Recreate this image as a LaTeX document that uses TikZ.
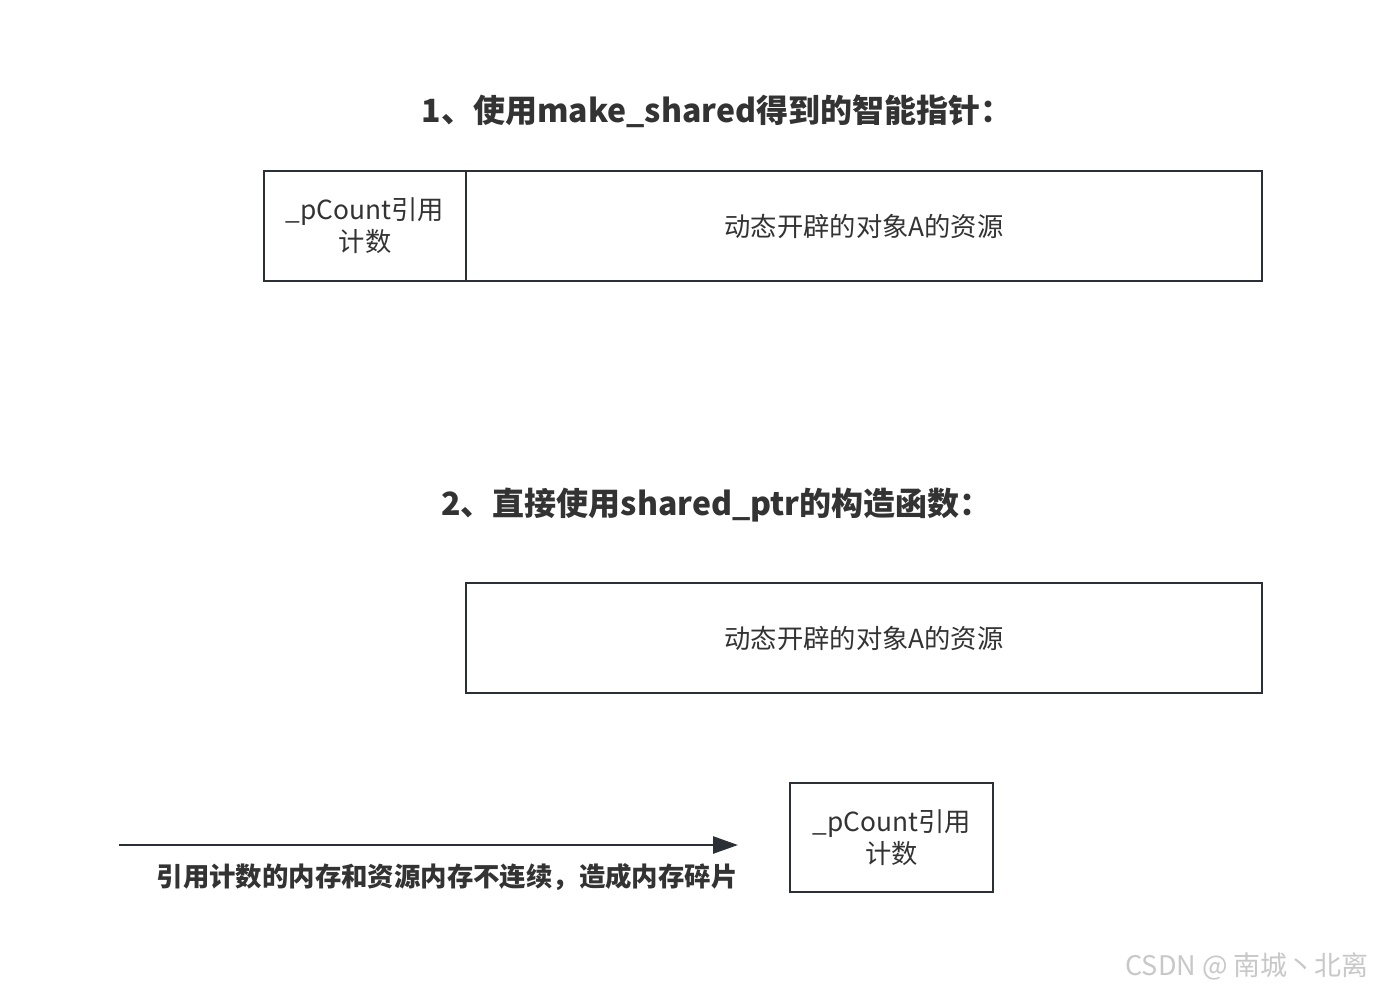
\documentclass[tikz,border=0pt]{standalone}
\usepackage{fontspec}
\setmainfont{Noto Sans CJK SC}
\usetikzlibrary{arrows.meta}
\definecolor{edge}{HTML}{2B3036}
\definecolor{ink}{HTML}{333333}
\definecolor{wm}{HTML}{C8C8C8}
\tikzset{
  box/.style={draw=edge, line width=2.8pt, fill=white, inner sep=0pt, text=ink, align=center,
    font=\fontsize{26.3}{32}\selectfont},
  title/.style={text=ink, font=\fontsize{32}{36}\selectfont\bfseries, inner sep=0pt},
  note/.style={text=ink, font=\fontsize{26.4}{30}\selectfont\bfseries, inner sep=0pt},
}
\begin{document}
\begin{tikzpicture}[x=1pt,y=-1pt]
\useasboundingbox (0,0) rectangle (1374,989);
\fill[white] (0,0) rectangle (1374,989);
% section 1
\node[title] (t1) at (717,111) {1、使用make\_shared得到的智能指针：};
\node[box, minimum width=202pt, minimum height=110pt] (c1) at (365,226) {\_pCount引用\\计数};
\node[box, minimum width=796pt, minimum height=110pt] (r1) at (864,226) {动态开辟的对象A的资源};
% section 2
\node[title] (t2) at (716.5,505) {2、直接使用shared\_ptr的构造函数：};
\node[box, minimum width=796pt, minimum height=110pt] (r2) at (864,638) {动态开辟的对象A的资源};
\node[box, minimum width=203pt, minimum height=109pt] (c2) at (891.5,837.5) {\_pCount引用\\计数};
% arrow
\coordinate (a0) at (119,845);
\coordinate (a1) at (738,845);
\draw[edge, line width=2.6pt, -{Triangle[length=25pt,width=17pt]}] (a0) -- (a1);
\node[note] (n1) at (447,877) {引用计数的内存和资源内存不连续，造成内存碎片};
% watermark
\node[text=wm, font=\fontsize{27}{30}\selectfont, inner sep=0pt, anchor=east] (wmk) at (1369,966) {CSDN @ 南城丶北离};
\end{tikzpicture}
\end{document}
